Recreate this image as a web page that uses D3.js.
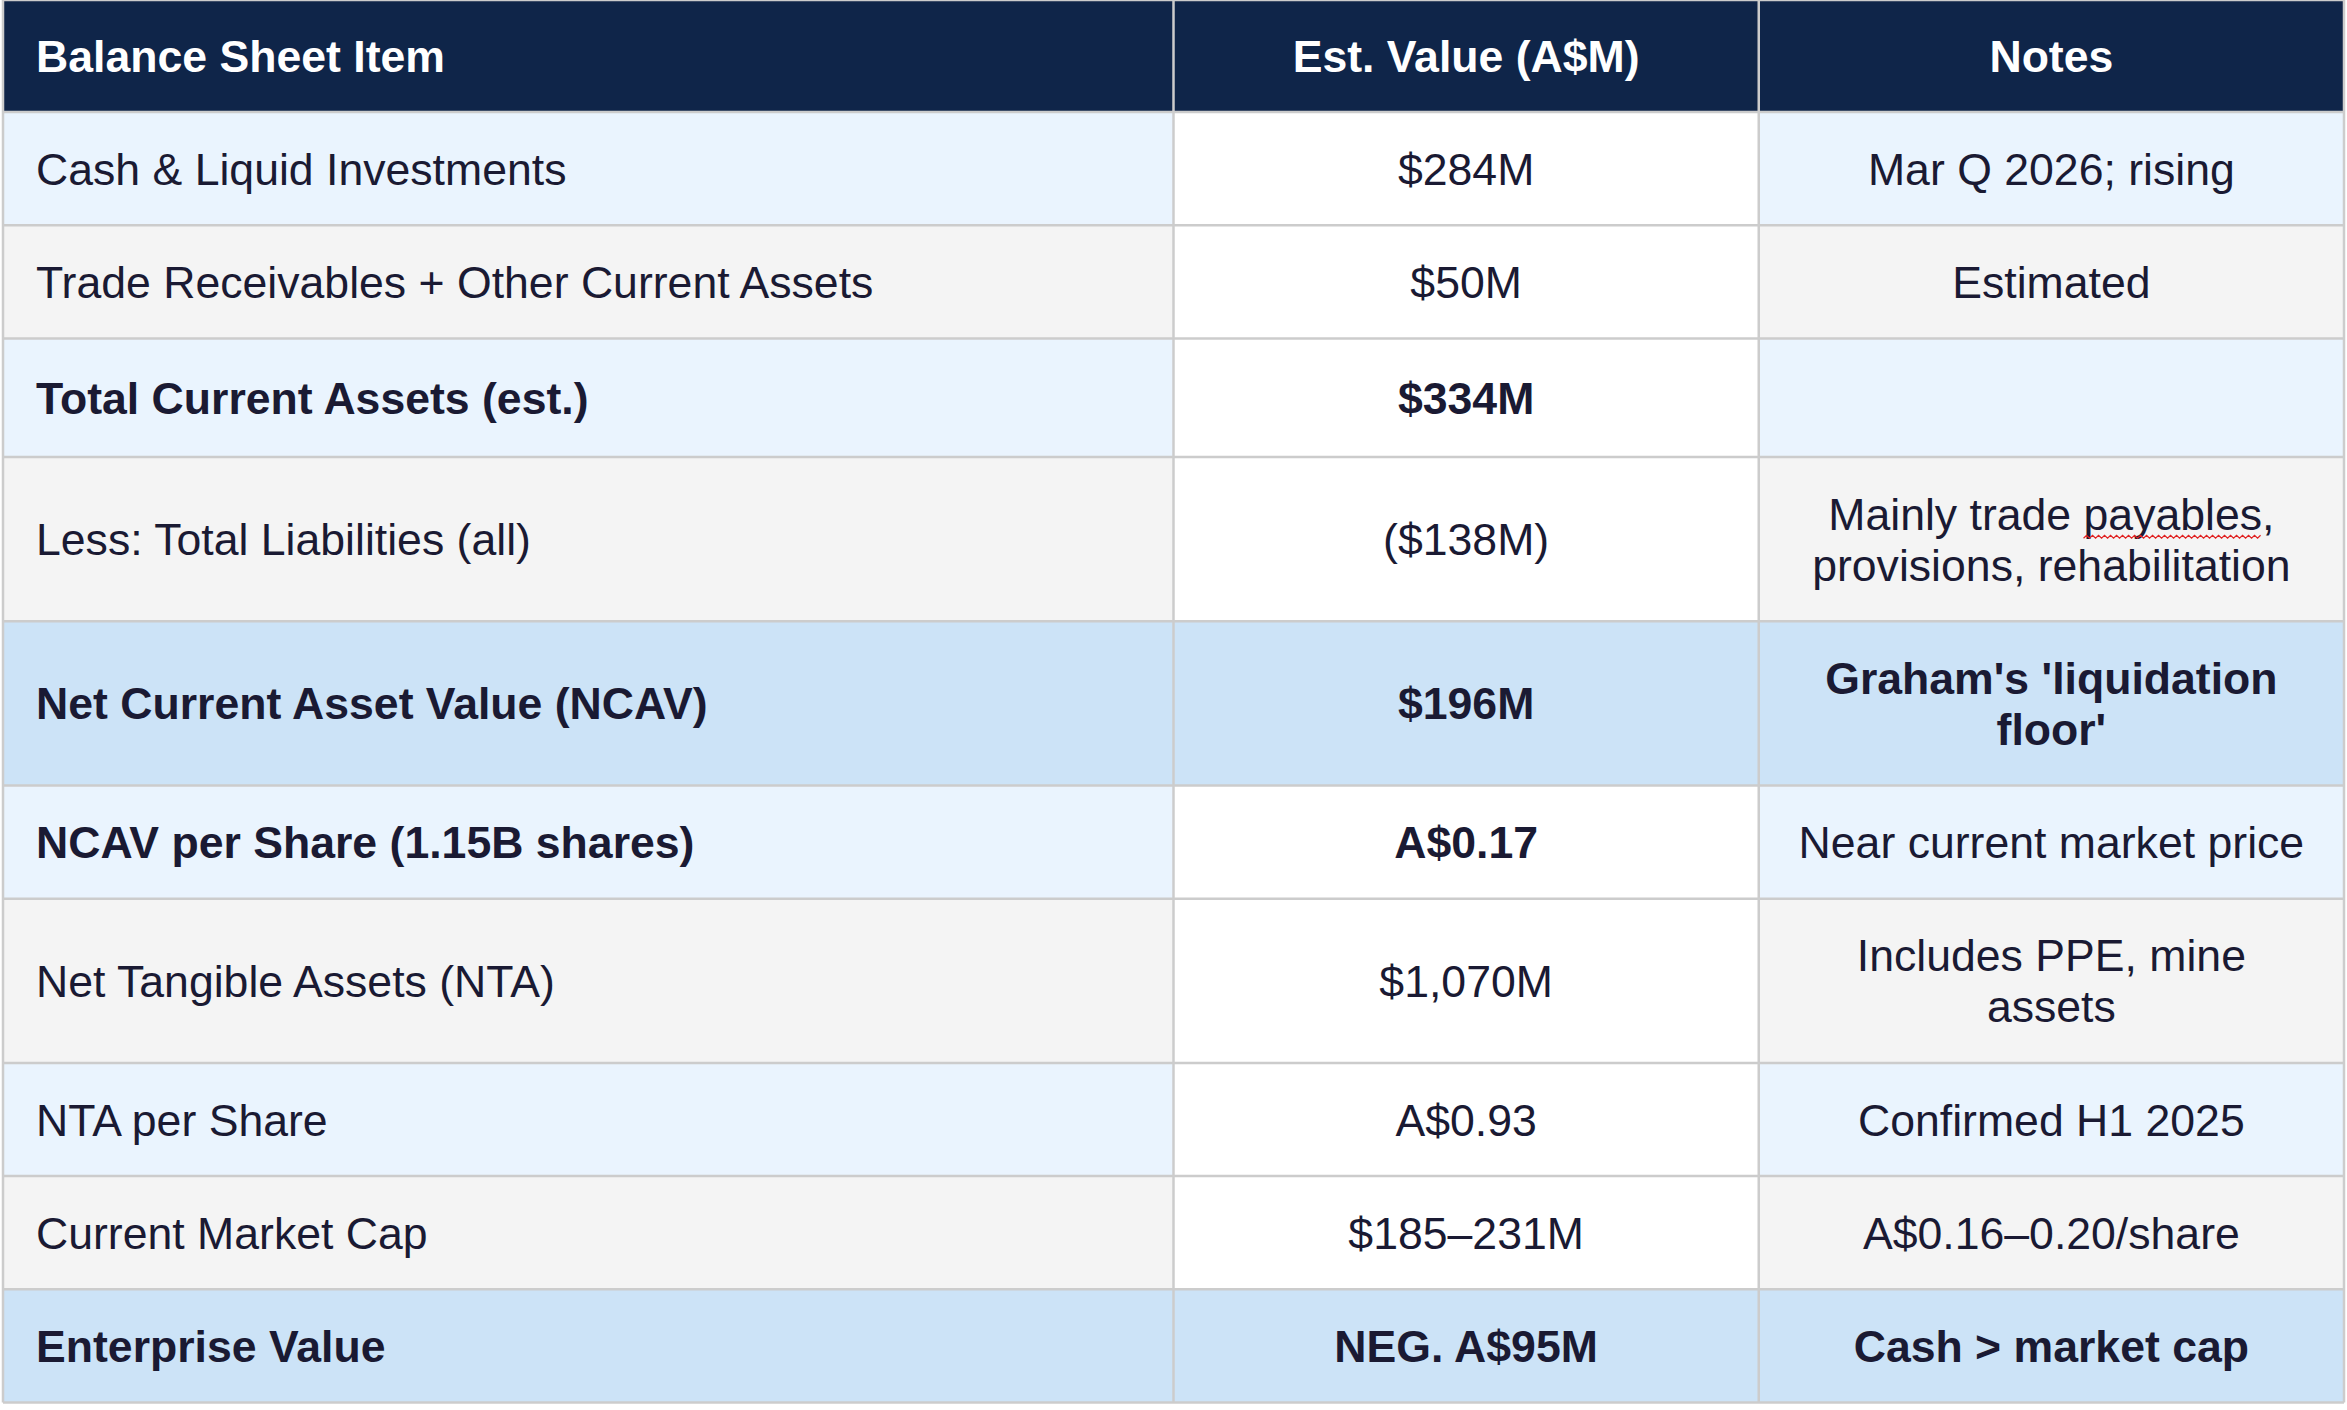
<!DOCTYPE html>
<html>
<head>
<meta charset="utf-8">
<script src="https://cdn.jsdelivr.net/npm/d3@7"></script>
<style>
  body { margin: 0; background: #fff; }
  svg text { font-family: "Liberation Sans", Arial, sans-serif; }
</style>
</head>
<body>
<div class="tableViz"></div>
<script>
// Table content
const columns = ["Balance Sheet Item", "Est. Value (A$M)", "Notes"];
const items = [
  "Cash & Liquid Investments",
  "Trade Receivables + Other Current Assets",
  "Total Current Assets (est.)",
  "Less: Total Liabilities (all)",
  "Net Current Asset Value (NCAV)",
  "NCAV per Share (1.15B shares)",
  "Net Tangible Assets (NTA)",
  "NTA per Share",
  "Current Market Cap",
  "Enterprise Value"
];
const values = [
  "$284M", "$50M", "$334M", "($138M)", "$196M",
  "A$0.17", "$1,070M", "A$0.93", "$185–231M", "NEG. A$95M"
];
const notes = [
  "Mar Q 2026; rising",
  "Estimated",
  "",
  "Mainly trade payables,\nprovisions, rehabilitation",
  "Graham's 'liquidation\nfloor'",
  "Near current market price",
  "Includes PPE, mine\nassets",
  "Confirmed H1 2025",
  "A$0.16–0.20/share",
  "Cash > market cap"
];
// Rows that are totals (highlighted) and rows with bold item/value
const keyRows = [4, 9];
const boldRows = [2, 4, 5, 9];
// Word flagged by the spell checker in the original
const flagged = { row: 3, word: "payables" };

// Canvas
const W = 2347, H = 1410;
let svg = d3.select("div.tableViz").append("svg")
    .attr("width", W)
    .attr("height", H);

let font_size = 44.6;
let line_h = 51;       // distance between wrapped lines
let cell_pad = 31;     // vertical padding above/below text block
let empty_extra = 5.5; // an empty cell keeps a slightly taller line box
let head_h = 112;
let text_pad = 33;     // left padding of first column
let color_head = "#0f2549";
let color_blue = "#eaf4fe";
let color_gray = "#f4f4f4";
let color_key = "#cce3f7";
let color_text = "#1a1a33";
let color_line = "#cccccc";

// Columns: 2 : 1 : 1 split of the table width
let x = d3.scaleLinear().domain([0, 4]).range([3, 2344]);
let colEdges = [0, 2, 3, 4];

// Rows built from the data
let rows = items.map(function(item, i) {
  let cells = [item, values[i], notes[i]].map(function(t) { return t.split("\n"); });
  let nLines = d3.max(cells, function(c) { return c.length; });
  let hasEmpty = [item, values[i], notes[i]].some(function(t) { return t === ""; });
  return { i: i, cells: cells, lines: nLines, empty: hasEmpty,
           key: keyRows.includes(i), bold: boldRows.includes(i) };
});

// Alternating shade counts only the non-total rows
let plain = 0;
rows.forEach(function(r) {
  r.shade = r.key ? color_key : (plain++ % 2 === 0 ? color_blue : color_gray);
  r.h = cell_pad * 2 + font_size + (r.lines - 1) * line_h + 6.6 + (r.empty ? empty_extra : 0);
});

// Cumulative y positions
let y0 = head_h;
rows.forEach(function(r) { r.y = y0; y0 += r.h; });
let tableBottom = y0;

// Header
svg.append("rect")
    .attr("x", x(0)).attr("y", 0)
    .attr("width", x(4) - x(0)).attr("height", head_h)
    .attr("fill", color_head);

function cellX(c) {
  return c === 0 ? x(colEdges[0]) + text_pad : (x(colEdges[c]) + x(colEdges[c + 1])) / 2;
}

svg.selectAll("text.head")
  .data(columns)
  .enter().append("text")
    .attr("class", "head")
    .attr("x", function(d, c) { return cellX(c); })
    .attr("y", head_h / 2 + font_size * 0.36)
    .attr("text-anchor", function(d, c) { return c === 0 ? "start" : "middle"; })
    .style("font-size", font_size + "px")
    .style("font-weight", "bold")
    .attr("fill", "#fff")
    .text(function(d) { return d; });

// Body rows
let g = svg.selectAll("g.row")
  .data(rows)
  .enter().append("g")
    .attr("class", "row")
    .attr("transform", function(r) { return "translate(0," + r.y + ")"; });

[0, 1, 2].forEach(function(c) {
  g.append("rect")
      .attr("x", x(colEdges[c]))
      .attr("width", x(colEdges[c + 1]) - x(colEdges[c]))
      .attr("height", function(r) { return r.h; })
      .attr("fill", function(r) { return (c === 1 && !r.key) ? "#fff" : r.shade; });

  let t = g.append("text")
      .attr("class", "c" + c)
      .attr("text-anchor", c === 0 ? "start" : "middle")
      .style("font-size", font_size + "px")
      .style("font-weight", function(r) { return (r.key || (r.bold && c < 2)) ? "bold" : "normal"; })
      .attr("fill", color_text);

  t.selectAll("tspan")
    .data(function(r) {
      let lines = r.cells[c];
      return lines.map(function(s, k) {
        return { s: s, dy: r.h / 2 + (k - (lines.length - 1) / 2) * line_h + font_size * 0.36 };
      });
    })
    .enter().append("tspan")
      .attr("x", cellX(c))
      .attr("y", function(d) { return d.dy; })
      .text(function(d) { return d.s; });
});

// Grid lines
let hLines = [0, head_h].concat(rows.map(function(r) { return r.y + r.h; }));
svg.selectAll("line.h")
  .data(hLines)
  .enter().append("line")
    .attr("x1", x(0)).attr("x2", x(4))
    .attr("y1", function(d) { return d; }).attr("y2", function(d) { return d; })
    .attr("stroke", color_line)
    .attr("stroke-width", 2.5);

svg.selectAll("line.v")
  .data(colEdges)
  .enter().append("line")
    .attr("x1", function(d) { return x(d); }).attr("x2", function(d) { return x(d); })
    .attr("y1", 0).attr("y2", tableBottom)
    .attr("stroke", color_line)
    .attr("stroke-width", 2.5);

// Spell-check squiggle under the flagged word
let fl = svg.selectAll("g.row").filter(function(r) { return r.i === flagged.row; });
let tsp = fl.select("text.c2 tspan").node();
let str = tsp.textContent;
let k0 = str.indexOf(flagged.word);
let ext0 = tsp.getStartPositionOfChar(k0);
let wlen = tsp.getSubStringLength(k0, flagged.word.length);
let base = +tsp.getAttribute("y") + 7;
let pts = [];
for (let px = 0; px <= wlen; px += 3) pts.push([ext0.x + px, base + ((px / 3) % 2 === 0 ? 1.5 : -1.5)]);
fl.append("path")
    .attr("d", d3.line()(pts))
    .attr("fill", "none")
    .attr("stroke", "#e02020")
    .attr("stroke-width", 1.2);
</script>
</body>
</html>
